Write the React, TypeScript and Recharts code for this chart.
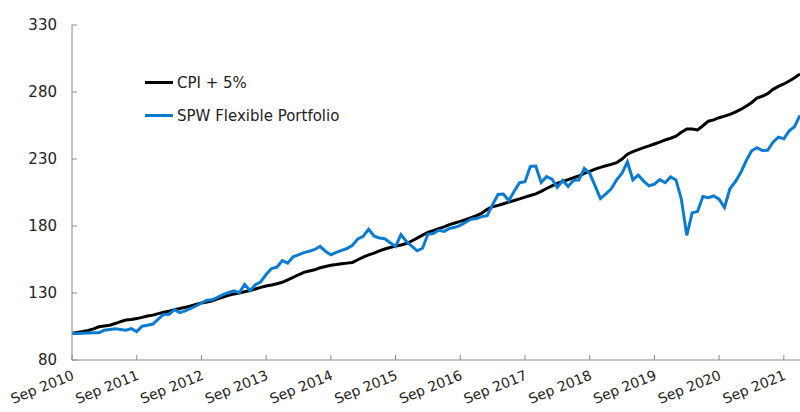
import { LineChart, Line, XAxis, YAxis, Legend } from "recharts";

// Monthly index values, Sep 2010 = 100
const spwValues = [
  100, 99.8, 100, 100.2, 100.3, 100.4, 102.2, 102.8, 103.3, 102.8, 102.2, 103.4,
  101.2, 105.2, 106, 106.8, 110.5, 114, 114.1, 117.6, 115.4, 116.6, 118.5, 120.3,
  122.5, 124.6, 124.9, 126.8, 128.8, 130.2, 131.6, 130.2, 136.3, 131.8, 136.2, 138.4,
  143.8, 148.2, 149.2, 154.2, 152.3, 157, 158.5, 160.1, 161.1, 162.5, 164.8, 161.2,
  158.5, 160.3, 161.8, 163.2, 165.6, 170.3, 172.3, 177.6, 172.6, 171, 170.5, 167.5,
  164.7, 173.6, 168.5, 165, 161.5, 163.4, 173.8, 174.4, 176.8, 176, 178.2, 179,
  180.5, 182.8, 185, 185.6, 187, 187.7, 196, 203.5, 203.9, 199, 206, 212.3,
  213.1, 224.5, 224.8, 212.5, 216.8, 214.9, 208.8, 214, 209.5, 214.2, 214.3, 223,
  219.5, 210, 200.5, 204, 207.8, 214.5, 219.5, 227.8, 214.5, 218, 213.5, 210,
  211.2, 214.6, 212.3, 216.6, 214.4, 200, 173, 189.8, 190.8, 202, 201.1, 202.4,
  200, 193.8, 207.8, 213, 219.7, 228.5, 236, 238.4, 236.4, 236.5, 242.5, 246.3,
  245.1, 251, 254.3, 262.5,
];

const cpiValues = [
  100, 100.6, 101.2, 102, 103.2, 104.8, 105.4, 106, 107.2, 108.6, 109.8, 110.3,
  110.9, 111.8, 112.8, 113.5, 114.6, 115.6, 116.5, 117.6, 118.4, 119.3, 120.3, 121.4,
  122.5, 123.2, 124.2, 125.6, 126.9, 128.2, 129.2, 130, 130.9, 131.8, 133, 134.2,
  135.2, 136, 136.9, 138, 139.8, 141.6, 143.6, 145.4, 146.4, 147.3, 148.8, 149.8,
  150.7, 151.2, 151.8, 152.3, 152.8, 154.8, 156.8, 158.4, 159.8, 161.4, 162.8, 164,
  165, 165.8, 166.9, 168.8, 171, 173.2, 175.2, 176.6, 178, 179.3, 181, 182.2,
  183.4, 184.8, 186.2, 187.8, 189.6, 192.5, 194.4, 195.4, 196.6, 197.8, 199, 200.2,
  201.5, 202.8, 204, 205.8, 208, 209.9, 211.8, 213.2, 214.6, 216, 217.3, 219.2,
  220.8, 222.4, 223.8, 225, 226, 227.2, 230, 233.6, 235.5, 237, 238.5, 239.8,
  241.2, 242.6, 244.2, 245.5, 247, 250, 252.4, 252.4, 251.7, 254.8, 258.2, 259.2,
  260.8, 262, 263.3, 265, 267, 269.4, 272, 275.5, 276.8, 278.8, 282, 284.2,
  286, 288.2, 290.6, 293.4,
];

const monthNames = ["Jan", "Feb", "Mar", "Apr", "May", "Jun", "Jul", "Aug", "Sep", "Oct", "Nov", "Dec"];
const months = spwValues.map((_, i) => {
  const m = 8 + i;
  return `${monthNames[m % 12]} ${2010 + Math.floor(m / 12)}`;
});

const yTicks = [80, 130, 180, 230, 280, 330];

const data = months.map((month, i) => ({
  month,
  cpi: cpiValues[i],
  spw: spwValues[i],
}));

const FONT = "'DejaVu Sans', sans-serif";
const BLUE = "#0b7bd0";

const XTick = (props: any) => {
  const { x, y, payload } = props;
  const tx = x + 3;
  const ty = y + 19;
  return (
    <text
      x={tx}
      y={ty}
      textAnchor="end"
      fontSize={14}
      fill="#222"
      fontFamily={FONT}
      transform={`rotate(-22 ${tx} ${ty})`}
    >
      {payload.value}
    </text>
  );
};

const LegendBox = () => (
  <div style={{ fontFamily: FONT, fontSize: 15, color: "#222" }}>
    {[
      { name: "CPI + 5%", color: "#000" },
      { name: "SPW Flexible Portfolio", color: BLUE },
    ].map((item) => (
      <div key={item.name} style={{ display: "flex", alignItems: "center", height: 33 }}>
        <span style={{ width: 28, height: 3, background: item.color, marginRight: 4 }} />
        <span>{item.name}</span>
      </div>
    ))}
  </div>
);

export default function App() {
  return (
    <div style={{ position: "absolute", left: 0, top: 0, background: "#fff" }}>
      <LineChart width={800} height={412} data={data} margin={{ top: 25, right: 0, left: 0, bottom: 0 }}>
        <XAxis
          dataKey="month"
          interval={11}
          height={52}
          tickSize={-5}
          tickMargin={5}
          stroke="#8a8a8a"
          tick={<XTick />}
        />
        <YAxis
          domain={[80, 330]}
          ticks={yTicks}
          width={72}
          tickSize={-5}
          tickMargin={20}
          stroke="#8a8a8a"
          tick={{ fontSize: 15, fill: "#222", fontFamily: FONT }}
        />
        <Legend
          layout="vertical"
          align="center"
          verticalAlign="middle"
          content={<LegendBox />}
          wrapperStyle={{ left: 145, top: 66, width: 260 }}
        />
        <Line dataKey="cpi" name="CPI + 5%" stroke="#000" strokeWidth={3} dot={false} isAnimationActive={false} />
        <Line dataKey="spw" name="SPW Flexible Portfolio" stroke={BLUE} strokeWidth={3} dot={false} isAnimationActive={false} />
      </LineChart>
    </div>
  );
}
